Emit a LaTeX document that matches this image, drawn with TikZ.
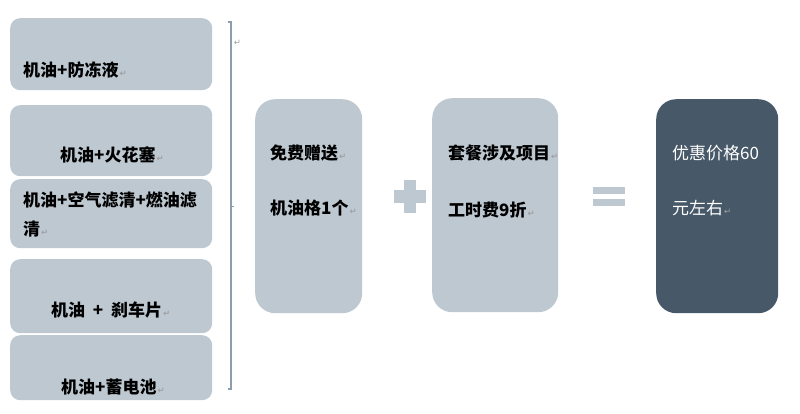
\documentclass[tikz,border=0pt]{standalone}
\usepackage{fontspec}
\setmainfont{Noto Sans CJK SC}
\newfontfamily\dvsans{DejaVu Sans}
\definecolor{lightbox}{HTML}{BEC8D1}
\definecolor{darkbox}{HTML}{475868}
\definecolor{bracketc}{HTML}{8C9DB0}
\definecolor{markc}{HTML}{A0A0A0}
\newcommand{\rmk}{\hspace{1pt}{\dvsans\fontsize{8.5}{8.5}\selectfont\color{markc}↵}}
\tikzset{
  lbox/.style={draw=none, fill=lightbox, rounded corners=10pt, anchor=north west, inner sep=0pt},
  tbox/.style={draw=none, fill=lightbox, rounded corners=20pt, anchor=north west, inner sep=0pt},
  dbox/.style={draw=none, fill=darkbox, rounded corners=20pt, anchor=north west, inner sep=0pt},
  txt/.style={anchor=west, inner sep=0pt, font=\fontsize{17}{20}\selectfont\bfseries, text=black},
  wtxt/.style={anchor=west, inner sep=0pt, font=\fontsize{17}{20}\selectfont, text=white},
  sym/.style={fill=lightbox, draw=none, inner sep=0pt, anchor=north west}
}
\begin{document}
\begin{tikzpicture}[x=1pt,y=-1pt]
\useasboundingbox (0,0) rectangle (800,413);
% left boxes
\node[lbox, minimum width=202pt, minimum height=72pt] (b1) at (10,18) {};
\node[lbox, minimum width=202pt, minimum height=71pt] (b2) at (10,105) {};
\node[lbox, minimum width=202pt, minimum height=69pt] (b3) at (10,179) {};
\node[lbox, minimum width=202pt, minimum height=74pt] (b4) at (10,259) {};
\node[lbox, minimum width=202pt, minimum height=65pt] (b5) at (10,335) {};
\node[txt] (t1) at (23,70) {机油+防冻液\rmk};
\node[txt] (t2) at (60,155) {机油+火花塞\rmk};
\node[txt] (t3) at (23,200) {机油+空气滤清+燃油滤};
\node[txt] (t3b) at (23,229) {清\rmk};
\node[txt] (t4) at (51,310) {机油 \ + \ 刹车片\rmk};
\node[txt] (t5) at (61,387) {机油+蓄电池\rmk};
% bracket
\coordinate (bt) at (230.5,22);
\coordinate (bb) at (230.5,389);
\coordinate (bm) at (230.5,206);
\draw[bracketc, line width=2pt] ([xshift=-3pt]bt) -- (bt) -- (bb) -- ([xshift=-3pt]bb);
\draw[bracketc, line width=1pt] (bm) -- ([xshift=3pt]bm);
\node[inner sep=0pt] (bmark) at (237,43) {\rmk};
% middle boxes
\node[tbox, minimum width=107pt, minimum height=214pt] (ba) at (255,99) {};
\node[txt] (ta1) at (270,153) {免费赠送\rmk};
\node[txt] (ta2) at (270,208) {机油格1个\rmk};
% plus
\node[sym, minimum width=12pt, minimum height=33pt] (pv) at (404,180) {};
\node[sym, minimum width=32pt, minimum height=13pt] (ph) at (394,190) {};
\node[tbox, minimum width=126pt, minimum height=214pt] (bb2) at (432,98) {};
\node[txt] (tb1) at (448,153) {套餐涉及项目\rmk};
\node[txt] (tb2) at (448,210) {工时费9折\rmk};
% equals
\node[sym, minimum width=32pt, minimum height=7pt] (e1) at (593,187) {};
\node[sym, minimum width=32pt, minimum height=7pt] (e2) at (593,199) {};
% result box
\node[dbox, minimum width=122pt, minimum height=214pt] (bc) at (656,99) {};
\node[wtxt] (tc1) at (672,153) {优惠价格60};
\node[wtxt] (tc2) at (672,208) {元左右\rmk};
\end{tikzpicture}
\end{document}
